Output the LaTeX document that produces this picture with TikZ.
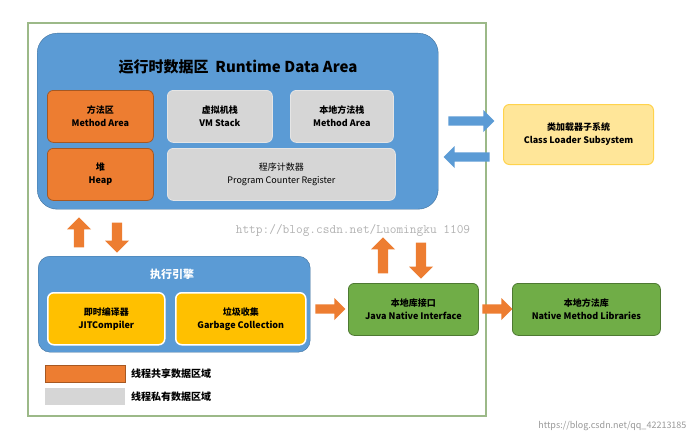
\documentclass[tikz,border=0pt]{standalone}
\usepackage{fontspec}
\setmainfont{Noto Sans CJK SC}
\usetikzlibrary{shapes.arrows}
\definecolor{bblue}{HTML}{5B9BD5}
\definecolor{bbord}{HTML}{41719C}
\definecolor{borange}{HTML}{ED7D31}
\definecolor{bgray}{HTML}{D6D6D6}
\definecolor{byel}{HTML}{FFC000}
\definecolor{bgreen}{HTML}{70AD47}
\begin{document}
\begin{tikzpicture}[x=1pt,y=-1pt,
  box/.style={rounded corners=6pt,draw,line width=0.8pt,align=center,font=\bfseries\fontsize{9}{13}\selectfont},
  orbox/.style={box,fill=borange,draw=borange!70!black},
  grbox/.style={box,fill=bgray,draw=white!80!gray},
  yebox/.style={box,fill=byel,draw=white,line width=1.5pt},
  gnbox/.style={box,fill=bgreen,draw=bgreen!70!black},
  barr/.style={single arrow,fill=bblue,draw=none,minimum height=46pt,minimum width=22pt,single arrow head extend=3pt,inner sep=2pt},
  oarr/.style={single arrow,fill=borange,draw=none,minimum height=30pt,minimum width=24pt,single arrow head extend=3pt,inner sep=2pt}]
\useasboundingbox (0,0) rectangle (696,444);
\fill[white] (0,0) rectangle (696,444);
\draw[bgreen!80!black!60!white,line width=2pt] (28,23) rectangle (486,416) coordinate (gb);
\node[rounded corners=20pt,fill=bblue,draw=bbord,minimum width=401pt,minimum height=176pt,anchor=north west] (rda) at (37,33) {};
\node[font=\bfseries\fontsize{15}{17}\selectfont] (rdat) at (238,67) {运行时数据区 \ Runtime Data Area};
\node[orbox,minimum width=106pt,minimum height=52pt,anchor=north west] (ma) at (47,90) {方法区\\Method Area};
\node[grbox,minimum width=105pt,minimum height=52pt,anchor=north west] (vm) at (167,90) {虚拟机栈\\VM Stack};
\node[grbox,minimum width=103pt,minimum height=52pt,anchor=north west] (ns) at (290,90) {本地方法栈\\Method Area};
\node[orbox,minimum width=106pt,minimum height=52pt,anchor=north west] (heap) at (47,148) {堆\\Heap};
\node[grbox,minimum width=228pt,minimum height=52pt,anchor=north west,font=\fontsize{9}{13}\selectfont] (pc) at (167,148) {程序计数器\\Program Counter Register};
\node[yebox,fill=byel!40!white,draw=byel!70!white,minimum width=150pt,minimum height=60pt,anchor=north west,line width=1pt] (cl) at (503,104) {类加载器子系统\\Class Loader Subsystem};
\node[barr] (a1) at (469,121) {};
\node[barr,shape border rotate=180] (a2) at (469,157) {};
\node[oarr,shape border rotate=90] (o1) at (79,235) {};
\node[oarr,shape border rotate=270] (o2) at (117,235) {};
\node[rounded corners=12pt,fill=bblue,draw=bbord,minimum width=272pt,minimum height=96pt,anchor=north west] (ee) at (38,256) {};
\node[font=\bfseries\fontsize{11}{13}\selectfont,text=white] (eet) at (172,274) {执行引擎};
\node[yebox,minimum width=117pt,minimum height=52pt,anchor=north west] (jit) at (47,292) {即时编译器\\JITCompiler};
\node[yebox,minimum width=130pt,minimum height=52pt,anchor=north west] (gc) at (175,292) {垃圾收集\\Garbage Collection};
\node[gnbox,minimum width=130pt,minimum height=52pt,anchor=north west] (jni) at (348,283) {本地库接口\\Java Native Interface};
\node[gnbox,minimum width=148pt,minimum height=52pt,anchor=north west] (nml) at (512,283) {本地方法库\\Native Method Libraries};
\node[oarr,shape border rotate=90,minimum height=36pt] (o3) at (383,258) {};
\node[oarr,shape border rotate=270,minimum height=36pt] (o4) at (421,258) {};
\node[oarr,minimum height=30pt,minimum width=22pt] (o5) at (328,309) {};
\node[oarr,minimum height=30pt,minimum width=22pt] (o6) at (495,309) {};
\node[fill=borange,draw=borange!70!black,minimum width=80pt,minimum height=17pt,anchor=north west,inner sep=0] (l1) at (45,365) {};
\node[fill=bgray,minimum width=80pt,minimum height=17pt,anchor=north west,inner sep=0] (l2) at (45,388) {};
\node[anchor=west,font=\bfseries\fontsize{10}{12}\selectfont] (l1t) at (l1.east) {\ 线程共享数据区域};
\node[anchor=west,font=\bfseries\fontsize{10}{12}\selectfont] (l2t) at (l2.east) {\ 线程私有数据区域};
\node[text=gray!60,font=\ttfamily\fontsize{13}{15}\selectfont] (wm) at (353,230) {http://blog.csdn.net/Luomingku 1109};
\node[text=gray!80,font=\fontsize{9}{10}\selectfont,anchor=east] (wm2) at (690,426) {https://blog.csdn.net/qq\_42213185};
\end{tikzpicture}
\end{document}
